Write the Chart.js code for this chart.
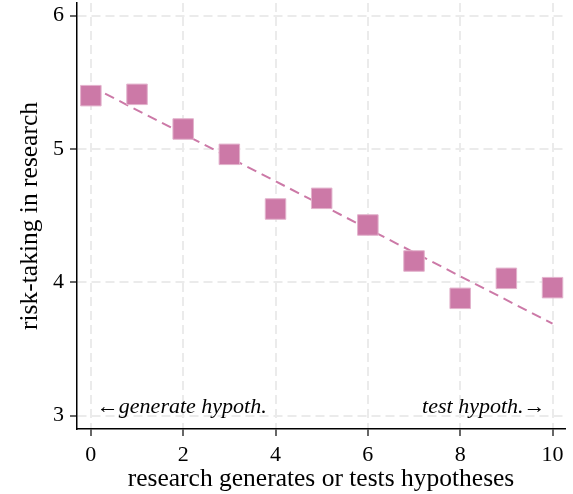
<!DOCTYPE html>
<html>
<head>
<meta charset="utf-8">
<script src="https://cdn.jsdelivr.net/npm/chart.js@4/dist/chart.umd.min.js"></script>
<style>
html,body{margin:0;padding:0;background:#fff;}
#wrap{width:573px;height:494px;position:relative;}
</style>
</head>
<body>
<div id="wrap"><canvas id="c" width="573" height="494"></canvas></div>
<script>
const categories = [0, 1, 2, 3, 4, 5, 6, 7, 8, 9, 10];
const riskTaking = [5.40, 5.41, 5.15, 4.96, 4.55, 4.63, 4.43, 4.16, 3.88, 4.03, 3.96];
const fitX = [0, 10];
const fitY = [5.47, 3.69];
const xTicks = [0, 2, 4, 6, 8, 10];
const yTicks = [3, 4, 5, 6];
const xTitle = 'research generates or tests hypotheses';
const yTitle = 'risk-taking in research';
const leftNote = '\u2190generate hypoth.';
const rightNote = 'test hypoth.\u2192';

const COLOR = '#cc79a7';
const FONT = '"Liberation Serif", "Times New Roman", serif';

const notes = {
  id: 'notes',
  afterDatasetsDraw(chart) {
    const {ctx, scales: {x, y}} = chart;
    ctx.save();
    ctx.fillStyle = '#000';
    ctx.font = 'italic 22px ' + FONT;
    ctx.textBaseline = 'middle';
    const yy = y.getPixelForValue(3.065);
    ctx.textAlign = 'left';
    ctx.fillText(leftNote, x.getPixelForValue(0) + 6, yy);
    ctx.textAlign = 'right';
    ctx.fillText(rightNote, x.getPixelForValue(10) - 7, yy);
    ctx.restore();
  }
};

const gridCommon = {
  color: '#ebebeb',
  lineWidth: 2,
  tickColor: '#000',
  tickLength: 7,
  tickWidth: 1.2,
  tickBorderDash: []
};

function noPad(s) {
  s.paddingTop = 0; s.paddingBottom = 0; s.paddingLeft = 0; s.paddingRight = 0;
}

new Chart(document.getElementById('c'), {
  type: 'scatter',
  data: {
    datasets: [
      {
        type: 'scatter',
        data: categories.map((c, i) => ({x: c, y: riskTaking[i]})),
        backgroundColor: COLOR,
        borderColor: '#e3b3cd',
        borderWidth: 1,
        pointStyle: 'rect',
        pointRadius: 14.5,
        pointHoverRadius: 14.5,
        order: 0
      },
      {
        type: 'line',
        data: fitX.map((c, i) => ({x: c, y: fitY[i]})),
        borderColor: COLOR,
        borderWidth: 2,
        borderDash: [10, 6],
        pointRadius: 0,
        fill: false,
        order: 1
      }
    ]
  },
  options: {
    responsive: false,
    animation: false,
    layout: {autoPadding: false, padding: {top: 3, right: 8, left: 0, bottom: 0}},
    plugins: {legend: {display: false}, tooltip: {enabled: false}},
    scales: {
      x: {
        type: 'linear',
        min: -0.3,
        max: 10.27,
        afterBuildTicks: s => { s.ticks = xTicks.map(v => ({value: v})); },
        afterFit: s => { s.height = 65; noPad(s); },
        grid: gridCommon,
        border: {display: true, color: '#000', width: 1.5, dash: [9, 5]},
        ticks: {color: '#000', font: {family: FONT, size: 22}, padding: 6, maxRotation: 0},
        title: {display: true, text: xTitle, color: '#000', font: {family: FONT, size: 25.5, lineHeight: 1.1}, padding: {top: 0, bottom: 1}}
      },
      y: {
        type: 'linear',
        min: 2.9,
        max: 6.095,
        afterBuildTicks: s => { s.ticks = yTicks.map(v => ({value: v})); },
        afterFit: s => { s.width = 77; noPad(s); },
        grid: gridCommon,
        border: {display: true, color: '#000', width: 1.5, dash: [9, 5]},
        ticks: {color: '#000', font: {family: FONT, size: 22}, padding: 6},
        title: {display: true, text: yTitle, color: '#000', font: {family: FONT, size: 25.5, lineHeight: 1.1}, padding: {top: 16, bottom: 0}}
      }
    }
  },
  plugins: [notes]
});
</script>
</body>
</html>
